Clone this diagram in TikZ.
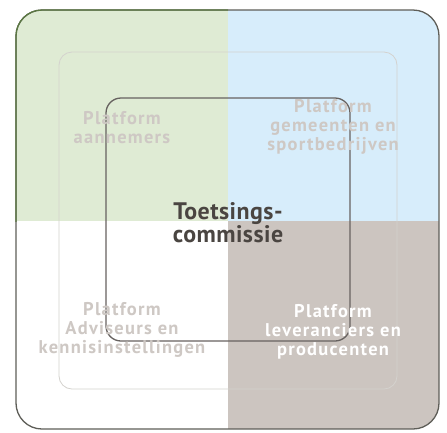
\documentclass[tikz,border=0pt]{standalone}
\usepackage{fontspec}
\setmainfont{PT Sans}
\newfontfamily\labfont[LetterSpace=7]{PT Sans}
\newfontfamily\cenfont[LetterSpace=2]{PT Sans}
\definecolor{qgreen}{HTML}{DFEBD4}
\definecolor{qblue}{HTML}{D7EDFB}
\definecolor{qtaupe}{HTML}{CCC5C0}
\definecolor{outerline}{HTML}{5E5E58}
\definecolor{outergreen}{HTML}{5B7842}
\definecolor{midline}{HTML}{D4D2CE}
\definecolor{innerline}{HTML}{676260}
\definecolor{labgray}{HTML}{CEC8C4}
\definecolor{centertext}{HTML}{4A4541}
\tikzset{
  platlabel/.style={font=\labfont\bfseries\fontsize{18.5}{19}\selectfont, text=labgray, align=center, inner sep=0pt},
  centerlabel/.style={font=\cenfont\bfseries\fontsize{24}{20}\selectfont, text=centertext, align=center, inner sep=0pt},
  outerframe/.style={line width=1.3bp, rounded corners=26bp}
}
\begin{document}
\begin{tikzpicture}[x=1bp,y=-1bp]
\useasboundingbox (0,0) rectangle (447,432);
\fill[white] (0,0) rectangle (447,432);
\begin{scope}
  \clip[rounded corners=26bp] (16,10) rectangle (439,429);
  \fill[qgreen] (16,10) rectangle (228,221);
  \fill[qblue] (228,10) rectangle (439,221);
  \fill[qtaupe] (228,221) rectangle (439,429);
\end{scope}
\draw[outerline, outerframe] (16,10) rectangle (439,429);
\begin{scope}
  \clip (0,0) rectangle (228,221);
  \draw[outergreen, outerframe] (16,10) rectangle (439,429);
\end{scope}
\draw[midline, line width=0.8bp, rounded corners=13bp] (59,52) rectangle (397,389);
\draw[innerline, line width=1.3bp, rounded corners=15bp] (106,98) rectangle (350,341);
\node[platlabel] (aan) at (122,128) {Platform\\aannemers};
\node[platlabel] (gem) at (333,127) {Platform\\gemeenten en\\sportbedrijven};
\node[platlabel] (adv) at (122,330) {Platform\\Adviseurs en\\kennisinstellingen};
\node[platlabel, text=white] (lev) at (333,332) {Platform\\leveranciers en\\producenten};
\node[centerlabel] (toets) at (228,223) {Toetsings-\\commissie};
\end{tikzpicture}
\end{document}
